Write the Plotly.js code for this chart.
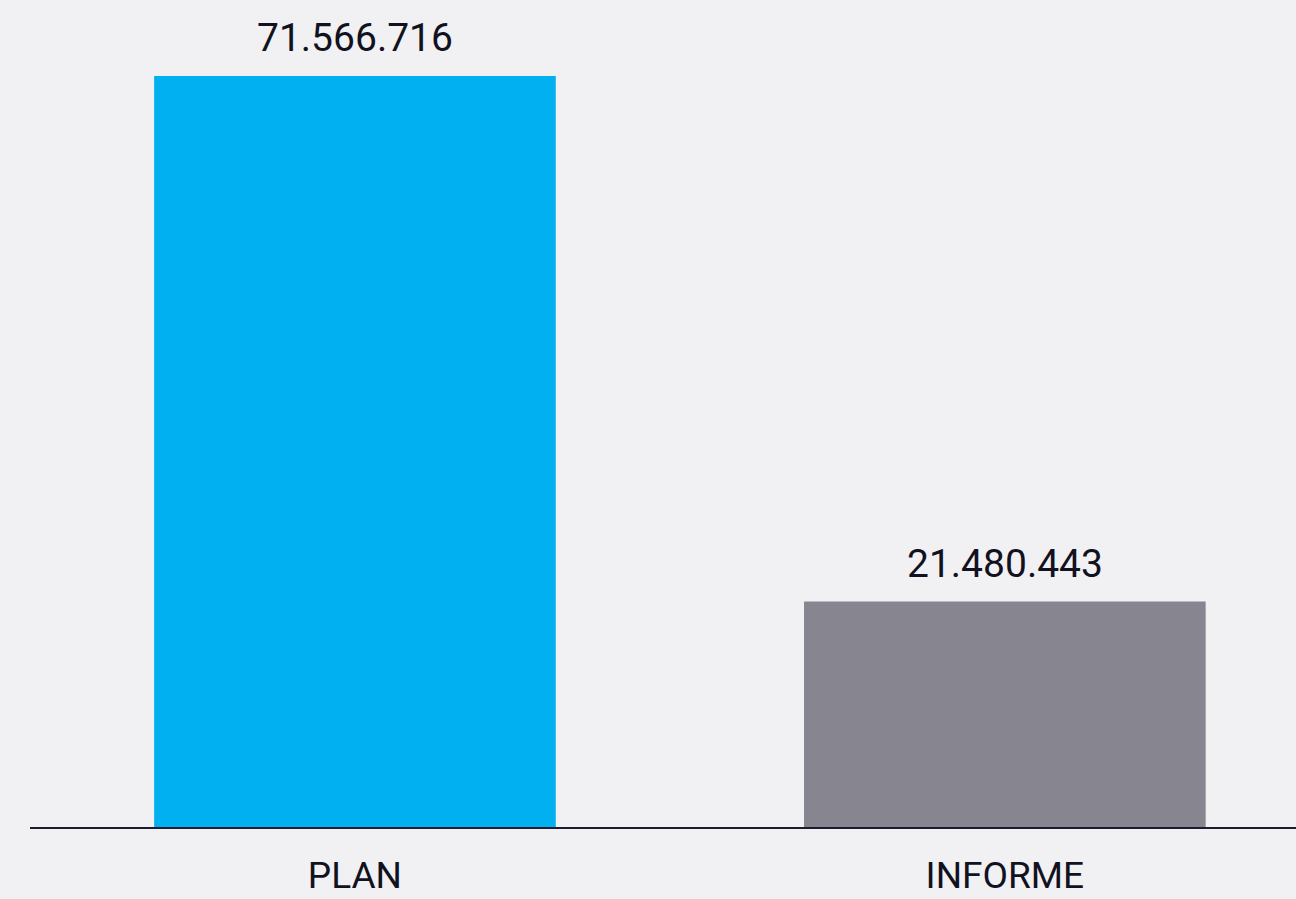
<!DOCTYPE html>
<html>
<head>
<meta charset="utf-8">
<script src="https://cdn.plot.ly/plotly-3.0.1.min.js"></script>
<style>
html,body{margin:0;padding:0;background:#f1f1f4;}
#chart{width:1296px;height:899px;}
</style>
</head>
<body>
<div id="chart"></div>
<script>
const categories = ["PLAN", "INFORME"];
const values = [71566716, 21480443];
const barColors = ["#00b0f0", "#868590"];

function fmt(v){
  return String(Math.round(v)).replace(/\B(?=(\d{3})+(?!\d))/g, ".");
}

const FONT = "Roboto, 'Open Sans', sans-serif";
const TXT = "#12121f";

const trace = {
  type: "bar",
  x: categories,
  y: values,
  marker: {color: barColors},
  width: 0.618,
  hoverinfo: "none"
};

const annotations = categories.map((c, i) => ({
  x: c, y: values[i], xref: "x", yref: "y",
  text: fmt(values[i]), showarrow: false,
  yanchor: "bottom", yshift: 13,
  font: {family: FONT, size: 39, color: TXT}
}));

const layout = {
  width: 1296, height: 899,
  margin: {l: 30, r: 0, t: 0, b: 72},
  paper_bgcolor: "#f1f1f4",
  plot_bgcolor: "#f1f1f4",
  showlegend: false,
  xaxis: {
    type: "category",
    range: [-0.5, 1.448],
    showline: true, linecolor: "#1c1c30", linewidth: 2,
    ticks: "", showgrid: false, zeroline: false,
    tickfont: {family: FONT, size: 37, color: TXT},
    ticklabelstandoff: 15,
    fixedrange: true
  },
  yaxis: {
    range: [0, 78809130],
    visible: false, showgrid: false, zeroline: false,
    fixedrange: true
  },
  annotations: annotations
};

Plotly.newPlot("chart", [trace], layout, {displayModeBar: false, staticPlot: true});
</script>
</body>
</html>
